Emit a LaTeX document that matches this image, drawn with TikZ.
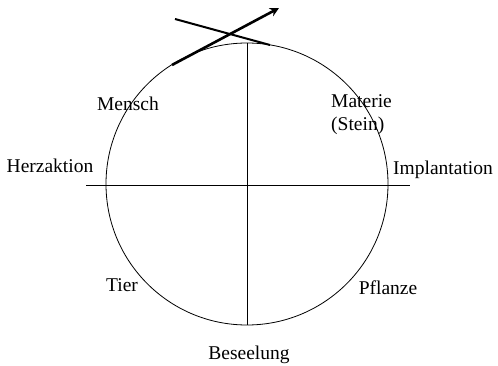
\documentclass[tikz,border=0pt]{standalone}
\usepackage{fontspec}
\setmainfont{Liberation Serif}
\usetikzlibrary{arrows.meta}
\begin{document}
\begin{tikzpicture}[x=1pt,y=1pt,
  lbl/.style={inner sep=0pt,font=\fontsize{19.5}{23}\selectfont},
  ln/.style={line width=1pt,black}]
\useasboundingbox (0,0) rectangle (498,365);
\coordinate (c) at (247,181);
\draw[line width=0.8pt] (c) circle (141);
\coordinate (hl) at (86,180);
\coordinate (hr) at (410,180);
\coordinate (vt) at (247,322);
\coordinate (vb) at (247,40);
\draw[ln] (hl) -- (hr);
\draw[ln] (vt) -- (vb);
\coordinate (as) at (172,300);
\coordinate (ae) at (279,357);
\draw[line width=2.6pt,-{Stealth[length=9pt,width=9pt]}] (as) -- (ae);
\coordinate (bs) at (175,346);
\coordinate (be) at (270,320);
\draw[line width=2pt] (bs) -- (be);
\node[lbl] (mensch) at (128,261) {Mensch};
\node[lbl,align=left,anchor=west] (materie) at (331,250) {Materie\\(Stein)};
\node[lbl] (herz) at (50,199) {Herzaktion};
\node[lbl] (impl) at (443,195) {Implantation};
\node[lbl] (tier) at (122,80) {Tier};
\node[lbl] (pfl) at (388,77) {Pflanze};
\node[lbl] (bes) at (249,10) {Beseelung};
\end{tikzpicture}
\end{document}
